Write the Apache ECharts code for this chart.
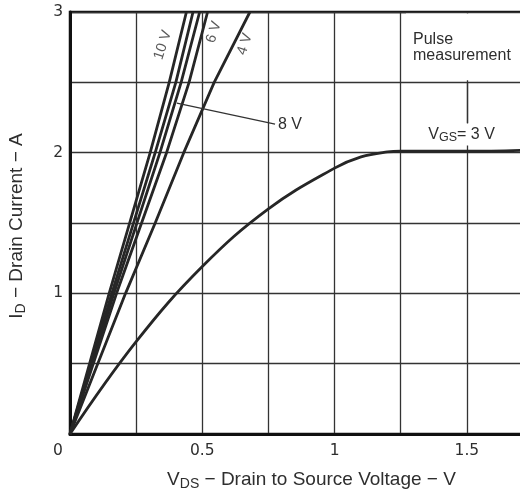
<!DOCTYPE html>
<html>
<head>
<meta charset="utf-8">
<script src="https://cdn.jsdelivr.net/npm/echarts@6/dist/echarts.min.js"></script>
<style>html,body{margin:0;padding:0;background:#fff;overflow:hidden}#c{width:520px;height:496px}</style>
</head>
<body>
<div id="c"></div>
<script>
// ---- data ----
const vds3V = [0, 0.25, 0.5, 0.75, 1.0, 1.1, 1.2, 1.25, 1.5, 1.75];
const id3V  = [0, 0.656, 1.19, 1.6, 1.89, 1.97, 2.005, 2.01, 2.01, 2.02];

const idSteep = [0, 1, 2, 2.5, 3];
const vds10V  = [0, 0.148, 0.303, 0.375, 0.44];
const vdsL2   = [0, 0.158, 0.322, 0.40, 0.465];
const vds8V   = [0, 0.166, 0.34, 0.42, 0.49];
const vds6V   = [0, 0.176, 0.365, 0.45, 0.52];

const id4V  = [0, 1, 1.5, 2, 2.5, 3];
const vds4V = [0, 0.21, 0.322, 0.43, 0.545, 0.68];

const xTickLabels = {0: '0', 0.5: '0.5', 1: '1', 1.5: '1.5'};
const yTickLabels = {1: '1', 2: '2', 3: '3'};

const lineLabelText = ['10 V', '6 V', '4 V'];
const lineLabelX    = [0.351, 0.544, 0.661];
const lineLabelY    = [2.765, 2.857, 2.772];

const arrow8V = [[0.404, 2.352], [0.775, 2.203]];
const pulseArrow = [[1.5, 2.5], [1.5, 2.21]];
const vgsLabelPos = [1.48, 2.13];
const noteBox = [[1.27, 2.515], [1.749, 2.99]];

function pairs(xs, ys){ return xs.map((x,i)=>[x, ys[i]]); }

const ink = '#262626';
const txt = '#2e2e2e';
const lineStyle = {color: ink, width: 2.8};
const sans = 'Liberation Sans';

const chart = echarts.init(document.getElementById('c'), null, {renderer: 'canvas'});
chart.setOption({
  backgroundColor: '#fff',
  animation: false,
  grid: {left: 70, top: 12, width: 463, height: 422, outerBoundsMode: 'none', containLabel: false,
    show: true, borderColor: '#111', borderWidth: 2.5, backgroundColor: 'transparent'},
  xAxis: {
    type: 'value', min: 0, max: 1.75, interval: 0.25,
    axisLine: {show: true, lineStyle: {color: '#111', width: 3}},
    axisTick: {show: false},
    splitLine: {show: true, lineStyle: {color: '#333', width: 1.3}},
    axisLabel: {
      margin: 9, fontFamily: 'DejaVu Sans', fontSize: 15.5, color: txt,
      formatter: v => { const t = xTickLabels[v]; if (t === undefined) return ''; return v === 0 ? '{z|0}' : t; },
      rich: {z: {fontFamily: 'DejaVu Sans', fontSize: 15.5, color: txt, padding: [0, 24, 0, 0]}}
    },
    name: '{v|V}{s|DS}{t| − Drain to Source Voltage − V}',
    nameLocation: 'middle', nameGap: 35,
    nameTextStyle: {
      padding: [0, 0, 0, 20],
      rich: {
        v: {fontFamily: sans, fontSize: 19, color: txt},
        s: {fontFamily: sans, fontSize: 14, color: txt, padding: [8, 0, 0, 0]},
        t: {fontFamily: sans, fontSize: 19, color: txt}
      }
    }
  },
  yAxis: {
    type: 'value', min: 0, max: 3, interval: 0.5,
    axisLine: {show: true, lineStyle: {color: '#111', width: 3}},
    axisTick: {show: false},
    splitLine: {show: true, lineStyle: {color: '#333', width: 1.3}},
    axisLabel: {
      margin: 7, fontFamily: 'DejaVu Sans', fontSize: 15.5, color: txt,
      formatter: v => yTickLabels[v] || ''
    },
    name: '{v|I}{s|D}{t| − Drain Current − A}',
    nameLocation: 'middle', nameGap: 42,
    nameTextStyle: {
      padding: [0, 6, 0, 0],
      rich: {
        v: {fontFamily: sans, fontSize: 19, color: txt},
        s: {fontFamily: sans, fontSize: 14, color: txt, padding: [8, 0, 0, 0]},
        t: {fontFamily: sans, fontSize: 19, color: txt}
      }
    }
  },
  series: [
    {
      name: 'VGS=3 V', type: 'line', smooth: 0.4, symbol: 'none', lineStyle,
      data: pairs(vds3V, id3V), z: 3,
      markPoint: {
        symbolSize: 0,
        data: [{coord: vgsLabelPos, value: 'vgs'}],
        label: {
          show: true, position: 'inside',
          formatter: '{v|V}{s|GS}{t|= 3 V}',
          backgroundColor: '#fff', padding: [1, 1],
          rich: {
            v: {fontFamily: sans, fontSize: 16, color: txt},
            s: {fontFamily: sans, fontSize: 12.5, color: txt, padding: [7, 0, 0, 0]},
            t: {fontFamily: sans, fontSize: 16, color: txt}
          }
        }
      },
      markLine: {
        silent: true, symbol: 'none',
        lineStyle: {color: '#333', width: 1.3, type: 'solid'},
        label: {show: false},
        data: [[{coord: pulseArrow[0]}, {coord: pulseArrow[1]}]]
      },
      markArea: {
        silent: true,
        itemStyle: {color: '#fff', opacity: 1},
        label: {
          show: true, position: 'insideTopLeft', distance: 0, padding: [18, 0, 0, 7],
          formatter: 'Pulse\nmeasurement',
          fontFamily: sans, fontSize: 16, color: txt, lineHeight: 16
        },
        data: [[{xAxis: noteBox[0][0], yAxis: noteBox[0][1]}, {xAxis: noteBox[1][0], yAxis: noteBox[1][1]}]]
      }
    },
    {name: 'VGS=10 V', type: 'line', symbol: 'none', lineStyle, data: pairs(vds10V, idSteep)},
    {name: 'VGS (unlabeled)', type: 'line', symbol: 'none', lineStyle, data: pairs(vdsL2, idSteep)},
    {
      name: 'VGS=8 V', type: 'line', symbol: 'none', lineStyle, data: pairs(vds8V, idSteep),
      markLine: {
        silent: true, symbol: ['none', 'none'],
        lineStyle: {color: '#333', width: 1.2, type: 'solid'},
        label: {show: true, position: 'end', formatter: '8 V', distance: 3,
          fontFamily: sans, fontSize: 16, color: txt},
        data: [[{coord: arrow8V[0]}, {coord: arrow8V[1]}]]
      }
    },
    {name: 'VGS=6 V', type: 'line', symbol: 'none', lineStyle, data: pairs(vds6V, idSteep)},
    {name: 'VGS=4 V', type: 'line', symbol: 'none', lineStyle, data: pairs(vds4V, id4V)},
    {
      name: 'line labels', type: 'scatter', symbolSize: 0, silent: true,
      data: lineLabelText.map((t, i) => ({name: t, value: [lineLabelX[i], lineLabelY[i]]})),
      label: {show: true, position: 'inside', formatter: p => p.name, rotate: 72,
        fontFamily: sans, fontSize: 14.5, color: txt}
    }
  ]
});
</script>
</body>
</html>
